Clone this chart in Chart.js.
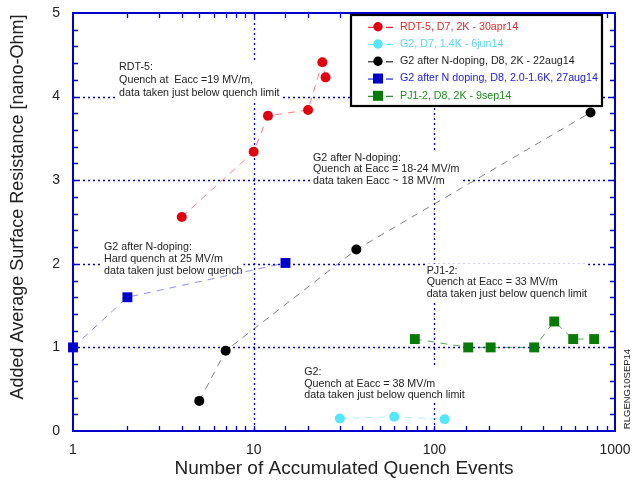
<!DOCTYPE html>
<html>
<head>
<meta charset="utf-8">
<script src="https://cdn.jsdelivr.net/npm/chart.js@4.4.1/dist/chart.umd.min.js"></script>
<style>
  html, body { margin: 0; padding: 0; background: #fff; }
  #wrap { width: 633px; height: 483px; position: relative; }
</style>
</head>
<body>
<div id="wrap"><canvas id="c"></canvas></div>
<script>
// ---- data: accumulated quench events vs added average surface resistance ----
const rdtX = [4, 10, 12, 20, 24, 25];
const rdtY = [2.56, 3.34, 3.77, 3.84, 4.41, 4.23];

const g2X = [30, 60, 114];
const g2Y = [0.15, 0.17, 0.14];

const g2DopedX = [5, 7, 37, 732];
const g2DopedY = [0.36, 0.96, 2.17, 3.81];

const g2DopedLowTX = [1, 2, 15];
const g2DopedLowTY = [1.0, 1.6, 2.01];

const pjX = [78, 154, 205, 357, 461, 587, 767];
const pjY = [1.10, 1.0, 1.0, 1.0, 1.31, 1.10, 1.10];

const seriesLabels = [
  'RDT-5, D7, 2K - 30apr14',
  'G2, D7, 1.4K - 6jun14',
  'G2 after N-doping, D8, 2K - 22aug14',
  'G2 after N doping, D8, 2.0-1.6K, 27aug14',
  'PJ1-2, D8, 2K - 9sep14'
];

const xTickLabels = [1, 10, 100, 1000];
const yTickLabels = [0, 1, 2, 3, 4, 5];

const xTitle = 'Number of Accumulated Quench Events';
const yTitle = 'Added Average Surface Resistance [nano-Ohm]';
const sideTag = 'RLGENG10SEP14';

// text notes placed at data coordinates (x events, y nano-Ohm of first line)
const notes = [
  { x: 1.80, y: 4.354, lines: ['RDT-5:', 'Quench at  Eacc =19 MV/m,', 'data taken just below quench limit'], gap: 12.8 },
  { x: 1.485, y: 2.197, lines: ['G2 after N-doping:', 'Hard quench at 25 MV/m', 'data taken just below quench'], gap: 11.8 },
  { x: 21.3, y: 3.269, lines: ['G2 after N-doping:', 'Quench at Eacc = 18-24 MV/m', 'data taken Eacc ~ 18 MV/m'], gap: 11.6 },
  { x: 90.7, y: 1.917, lines: ['PJ1-2:', 'Quench at Eacc = 33 MV/m', 'data taken just below quench limit'], gap: 11.8 },
  { x: 19.06, y: 0.706, lines: ['G2:', 'Quench at Eacc = 38 MV/m', 'data taken just below quench limit'], gap: 11.7 }
];

const pts = (xs, ys) => xs.map((v, i) => ({ x: v, y: ys[i] }));

const styles = [
  { point: '#e00010', line: 'rgba(240,90,90,0.75)', text: '#e22a2a', shape: 'circle', r: 5 },
  { point: '#55e6fb', line: 'rgba(120,230,250,0.6)', text: '#5cd9ee', shape: 'circle', r: 5 },
  { point: '#000000', line: 'rgba(90,90,90,0.75)', text: '#1e1e1e', shape: 'circle', r: 5 },
  { point: '#0000cc', line: 'rgba(80,80,235,0.65)', text: '#2323d6', shape: 'rect', r: 7 },
  { point: '#087a08', line: 'rgba(20,130,20,0.7)', text: '#1e8e1e', shape: 'rect', r: 7 }
];

const seriesData = [
  pts(rdtX, rdtY),
  pts(g2X, g2Y),
  pts(g2DopedX, g2DopedY),
  pts(g2DopedLowTX, g2DopedLowTY),
  pts(pjX, pjY)
];

const datasets = seriesData.map((d, i) => ({
  label: seriesLabels[i],
  data: d,
  showLine: true,
  borderColor: styles[i].line,
  borderWidth: 1,
  borderDash: [7, 6],
  pointStyle: styles[i].shape,
  pointRadius: styles[i].r,
  pointHoverRadius: styles[i].r,
  pointBackgroundColor: styles[i].point,
  pointBorderColor: styles[i].point,
  pointBorderWidth: 0,
  clip: false
}));

const AXIS = '#0000cc';
const TEXT = '#222222';
const FONT = '"Liberation Sans", Arial, Helvetica, sans-serif';

// grid, inward ticks, frame and text notes underneath the data
const framePlugin = {
  id: 'frame',
  beforeDatasetsDraw(chart) {
    const { ctx, chartArea: a, scales: { x, y } } = chart;
    ctx.save();

    // dotted grid at the labelled values inside the box
    ctx.strokeStyle = AXIS;
    ctx.lineWidth = 1.3;
    ctx.setLineDash([2, 3]);
    xTickLabels.forEach(v => {
      const px = Math.round(x.getPixelForValue(v)) + 0.5;
      if (px <= a.left + 2 || px >= a.right - 2) return;
      ctx.beginPath(); ctx.moveTo(px, a.top); ctx.lineTo(px, a.bottom); ctx.stroke();
    });
    yTickLabels.forEach(v => {
      const py = Math.round(y.getPixelForValue(v)) + 0.5;
      if (py <= a.top + 2 || py >= a.bottom - 2) return;
      ctx.beginPath(); ctx.moveTo(a.left, py); ctx.lineTo(a.right, py); ctx.stroke();
    });
    ctx.setLineDash([]);

    // inward tick marks on all four sides
    ctx.lineWidth = 1.3;
    const tl = 5;
    x.ticks.forEach(t => {
      const px = Math.round(x.getPixelForValue(t.value)) + 0.5;
      if (px <= a.left + 1 || px >= a.right - 1) return;
      ctx.beginPath();
      ctx.moveTo(px, a.bottom); ctx.lineTo(px, a.bottom - tl);
      ctx.moveTo(px, a.top); ctx.lineTo(px, a.top + tl);
      ctx.stroke();
    });
    y.ticks.forEach(t => {
      const py = Math.round(y.getPixelForValue(t.value)) + 0.5;
      if (py <= a.top + 1 || py >= a.bottom - 1) return;
      ctx.beginPath();
      ctx.moveTo(a.left, py); ctx.lineTo(a.left + tl, py);
      ctx.moveTo(a.right, py); ctx.lineTo(a.right - tl, py);
      ctx.stroke();
    });

    // frame
    ctx.lineWidth = 2;
    ctx.strokeRect(a.left, a.top, a.right - a.left, a.bottom - a.top);

    // notes on white boxes
    ctx.font = '10.7px ' + FONT;
    ctx.textBaseline = 'middle';
    ctx.textAlign = 'left';
    notes.forEach(n => {
      const nx = x.getPixelForValue(n.x);
      const ny = y.getPixelForValue(n.y);
      const w = Math.max(...n.lines.map(s => ctx.measureText(s).width));
      const h = n.gap * (n.lines.length - 1);
      ctx.fillStyle = '#ffffff';
      ctx.fillRect(nx - 1, ny - 7, w + 2, h + 14);
      ctx.fillStyle = TEXT;
      n.lines.forEach((s, i) => ctx.fillText(s, nx, ny + i * n.gap));
    });

    ctx.restore();
  },
  afterDraw(chart) {
    const { ctx, chartArea: a } = chart;
    ctx.save();

    // axis titles and side tag
    ctx.fillStyle = TEXT;
    ctx.textAlign = 'center';
    ctx.textBaseline = 'middle';
    ctx.font = '19px ' + FONT;
    ctx.fillText(xTitle, (a.left + a.right) / 2, 469);
    ctx.save();
    ctx.translate(18, 207);
    ctx.rotate(-Math.PI / 2);
    ctx.font = '18px ' + FONT;
    ctx.fillText(yTitle, 0, 0);
    ctx.restore();
    ctx.save();
    ctx.translate(627, 389);
    ctx.rotate(-Math.PI / 2);
    ctx.font = '9.5px ' + FONT;
    ctx.fillText(sideTag, 0, 0);
    ctx.restore();

    // legend box
    const bx = 351, by = 15, bw = 251, bh = 91;
    ctx.fillStyle = '#ffffff';
    ctx.fillRect(bx, by, bw, bh);
    ctx.strokeStyle = '#000000';
    ctx.lineWidth = 2.2;
    ctx.strokeRect(bx, by, bw, bh);
    ctx.font = '10.7px ' + FONT;
    ctx.textAlign = 'left';
    chart.data.datasets.forEach((ds, i) => {
      const st = styles[i];
      const cy = 26.8 + i * 17.25;
      const mx = 378;
      ctx.strokeStyle = st.point;
      ctx.lineWidth = 1;
      ctx.beginPath();
      ctx.moveTo(368, cy + 0.5); ctx.lineTo(mx, cy + 0.5);
      ctx.moveTo(386, cy + 0.5); ctx.lineTo(393, cy + 0.5);
      ctx.stroke();
      ctx.fillStyle = st.point;
      if (st.shape === 'circle') {
        ctx.beginPath(); ctx.arc(mx, cy, 4.7, 0, Math.PI * 2); ctx.fill();
      } else {
        ctx.fillRect(mx - 5, cy - 5, 10, 10);
      }
      ctx.fillStyle = st.text;
      ctx.fillText(ds.label, 400, cy);
    });
    ctx.restore();
  }
};

new Chart(document.getElementById('c'), {
  type: 'scatter',
  data: { datasets },
  options: {
    responsive: true,
    maintainAspectRatio: false,
    animation: false,
    events: [],
    layout: { padding: { left: 0, right: 18, top: 13, bottom: 0 } },
    plugins: { legend: { display: false }, tooltip: { enabled: false } },
    scales: {
      x: {
        type: 'logarithmic',
        min: 1,
        max: 1000,
        grid: { display: false, drawTicks: false },
        border: { display: false },
        afterFit(s) { s.height = 52; s.paddingLeft = 0; s.paddingRight = 0; },
        ticks: {
          autoSkip: false,
          maxRotation: 0,
          padding: 11,
          color: TEXT,
          font: { family: FONT, size: 14 },
          callback: v => (xTickLabels.includes(v) ? String(v) : '')
        }
      },
      y: {
        type: 'linear',
        min: 0,
        max: 5,
        grid: { display: false, drawTicks: false },
        border: { display: false },
        afterFit(s) { s.width = 73; s.paddingTop = 0; s.paddingBottom = 0; },
        ticks: {
          stepSize: 0.2,
          autoSkip: false,
          padding: 13,
          color: TEXT,
          font: { family: FONT, size: 14 },
          callback: v => {
            const r = Math.round(v);
            return Math.abs(v - r) < 1e-6 && yTickLabels.includes(r) ? String(r) : '';
          }
        }
      }
    }
  },
  plugins: [framePlugin]
});
</script>
</body>
</html>
